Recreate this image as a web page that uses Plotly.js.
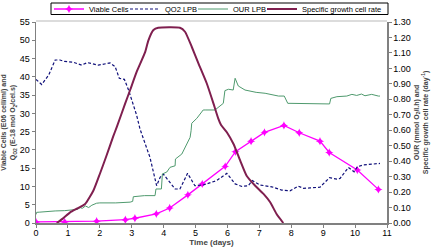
<!DOCTYPE html>
<html><head><meta charset="utf-8">
<script src="https://cdn.plot.ly/plotly-3.0.1.min.js"></script>
<style>html,body{margin:0;padding:0;background:#fff}#chart{width:435px;height:249px}</style>
</head><body><div id="chart"></div>
<script>
const cellsDays = [0, 0.9, 1.9, 2.8, 3.1, 3.77, 4.19, 4.76, 5.21, 5.93, 6.25, 6.74, 7.16, 7.77, 8.25, 8.9, 9.19, 10.07, 10.73];
const cellsVals = [0.3, 0.3, 0.5, 0.9, 1.3, 2.5, 4.1, 7.7, 10.7, 15.5, 19.5, 22.4, 24.8, 26.7, 24.7, 22.4, 19.3, 14.5, 9.2];

const qo2Days = [0, 0.18, 0.4, 0.6, 0.75, 0.9, 1.17, 1.43, 1.61, 1.95, 2.32, 2.48, 2.61, 2.77, 2.9, 3.15, 3.26, 3.42, 3.57, 3.78, 3.89, 3.99, 4.36, 4.51, 4.75, 4.98, 5.24, 5.66, 5.98, 6.24, 6.45, 6.65, 6.78, 7.02, 7.39, 7.7, 7.96, 8.22, 8.38, 8.59, 8.9, 9.2, 9.43, 9.53, 9.79, 9.97, 10.07, 10.26, 10.78];
const qo2Vals = [39.3, 37.9, 40.5, 44.6, 44.6, 44.2, 44.0, 43.2, 43.9, 43.2, 43.8, 42.8, 39.6, 39.3, 36.4, 29.6, 25.7, 22, 18, 10.2, 12.5, 13.4, 9.3, 9.3, 13.6, 10.2, 10.4, 11.6, 13.6, 10.7, 10, 10.2, 11.6, 10.4, 9.9, 9.0, 8.8, 10.1, 9.5, 9.6, 9.8, 12.4, 12, 12.2, 15.2, 14, 15.4, 15.9, 16.3];

const ourDays = [0, 0.02, 0.1, 0.3, 0.6, 0.9, 1.07, 1.2, 1.3, 1.38, 1.45, 1.55, 1.65, 1.75, 1.85, 1.9, 2.0, 2.5, 2.95, 3.03, 3.05, 3.4, 3.73, 3.76, 3.93, 3.96, 4.1, 4.2, 4.36, 4.37, 4.57, 4.7, 4.83, 4.86, 4.88, 5.04, 5.24, 5.3, 5.61, 5.87, 5.92, 6.03, 6.18, 6.24, 6.34, 6.55, 6.76, 6.9, 7.18, 7.39, 7.6, 7.78, 7.83, 7.89, 7.96, 8.38, 8.59, 9.2, 9.24, 9.43, 9.74, 9.9, 10.05, 10.2, 10.31, 10.52, 10.73, 10.78];
const ourVals = [0.055, 0.069, 0.07, 0.075, 0.078, 0.08, 0.084, 0.09, 0.088, 0.1, 0.095, 0.11, 0.1, 0.115, 0.123, 0.128, 0.13, 0.13, 0.135, 0.14, 0.17, 0.177, 0.177, 0.22, 0.22, 0.317, 0.33, 0.36, 0.37, 0.414, 0.446, 0.5, 0.554, 0.597, 0.645, 0.677, 0.731, 0.731, 0.731, 0.774, 0.856, 0.865, 0.86, 0.936, 0.886, 0.86, 0.849, 0.845, 0.839, 0.828, 0.821, 0.821, 0.796, 0.774, 0.774, 0.774, 0.77, 0.77, 0.806, 0.817, 0.821, 0.832, 0.825, 0.834, 0.823, 0.832, 0.821, 0.821];

const muDays = [0.65, 0.85, 1.07, 1.3, 1.54, 1.8, 2.0, 2.2, 2.42, 2.53, 2.79, 2.95, 3.16, 3.42, 3.52, 3.68, 3.83, 4.51, 4.67, 4.88, 5.09, 5.35, 5.56, 5.71, 5.8, 5.98, 6.19, 6.4, 6.6, 6.87, 7.13, 7.34, 7.54, 7.75];
const muVals = [0, 0.03, 0.069, 0.095, 0.123, 0.21, 0.317, 0.43, 0.56, 0.62, 0.77, 0.86, 0.98, 1.105, 1.18, 1.248, 1.263, 1.263, 1.237, 1.14, 1.033, 0.904, 0.774, 0.677, 0.634, 0.587, 0.511, 0.403, 0.306, 0.241, 0.188, 0.134, 0.058, 0];

const xTicks = [0,1,2,3,4,5,6,7,8,9,10,11];
const leftTicks = [0,5,10,15,20,25,30,35,40,45,50,55];
const rightTicks = [0,0.1,0.2,0.3,0.4,0.5,0.6,0.7,0.8,0.9,1.0,1.1,1.2,1.3];

const FONT = 'Liberation Sans, Arial, sans-serif';

const traces = [
  {x: cellsDays, y: cellsVals, name: 'Viable Cells', type: 'scatter', mode: 'lines+markers', legendwidth: 31,
   line: {color: '#ff00ff', width: 1.3}, marker: {symbol: 'star-diamond', size: 6, color: '#ff00ff'}},
  {x: qo2Days, y: qo2Vals, name: 'QO2 LPB', type: 'scatter', mode: 'lines', legendwidth: 23,
   line: {color: '#10107a', width: 1.2, dash: '3px,2px'}},
  {x: ourDays, y: ourVals, name: 'OUR LPB', type: 'scatter', mode: 'lines', yaxis: 'y2', legendwidth: 24,
   line: {color: '#4f9a6e', width: 1}},
  {x: muDays, y: muVals, name: 'Specific growth cell rate', type: 'scatter', mode: 'lines', yaxis: 'y2', legendwidth: 90,
   line: {color: '#7f1f4f', width: 2, shape: 'spline', smoothing: 0.5}}
];

const axisCommon = {showgrid: false, zeroline: false, showline: true, linecolor: '#808080', linewidth: 1.5,
  ticks: 'outside', ticklen: 3, tickcolor: '#808080', tickfont: {family: FONT, size: 9, color: '#000'}};

const layout = {
  width: 435, height: 249,
  margin: {l: 36, r: 48, t: 22, b: 26, pad: 0, autoexpand: false},
  paper_bgcolor: '#fff', plot_bgcolor: '#fff',
  showlegend: true,
  legend: {orientation: 'h', x: 13/351, xanchor: 'left', y: (223 + 5.5)/201, yanchor: 'top',
    borderwidth: 0, bgcolor: 'rgba(0,0,0,0)',
    font: {family: FONT, size: 7.5, color: '#000'}, itemwidth: 30},
  xaxis: Object.assign({}, axisCommon, {range: [0, 11], tickvals: xTicks, ticktext: xTicks.map(String),
    ticklabelstandoff: -2,
    title: {text: '<b>Time (days)</b>', font: {family: FONT, size: 8}, standoff: 2}}),
  yaxis: Object.assign({}, axisCommon, {range: [0, 55], tickvals: leftTicks, ticktext: leftTicks.map(String),
    title: {text: '<b>Viable Cells (E06 cell/ml) and<br>Q<sub>O2</sub> (E-18 mol O<sub>2</sub>/cel.s)</b>', font: {family: FONT, size: 7}, standoff: 4}}),
  yaxis2: Object.assign({}, axisCommon, {overlaying: 'y', side: 'right', range: [0, 1.3], tickvals: rightTicks,
    ticktext: rightTicks.map(v => v.toFixed(2)),
    title: {text: '<b>OUR (mmol O<sub>2</sub>/l.h) and<br>Specific growth cell rate (day<sup>-1</sup>)</b>', font: {family: FONT, size: 7}, standoff: 4}}),
  shapes: [
    {type: 'line', xref: 'paper', yref: 'paper', x0: 0, x1: 1, y0: 1.005, y1: 1.005, line: {color: '#d0d0d0', width: 1.5}},
    {type: 'rect', xref: 'paper', yref: 'paper', x0: 15/351, x1: 352/351, y0: (223-14.5)/201, y1: (223-3)/201, line: {color: '#000', width: 1}, fillcolor: 'rgba(0,0,0,0)'}
  ]
};

Plotly.newPlot('chart', traces, layout, {displayModeBar: false, staticPlot: true});
</script></body></html>
